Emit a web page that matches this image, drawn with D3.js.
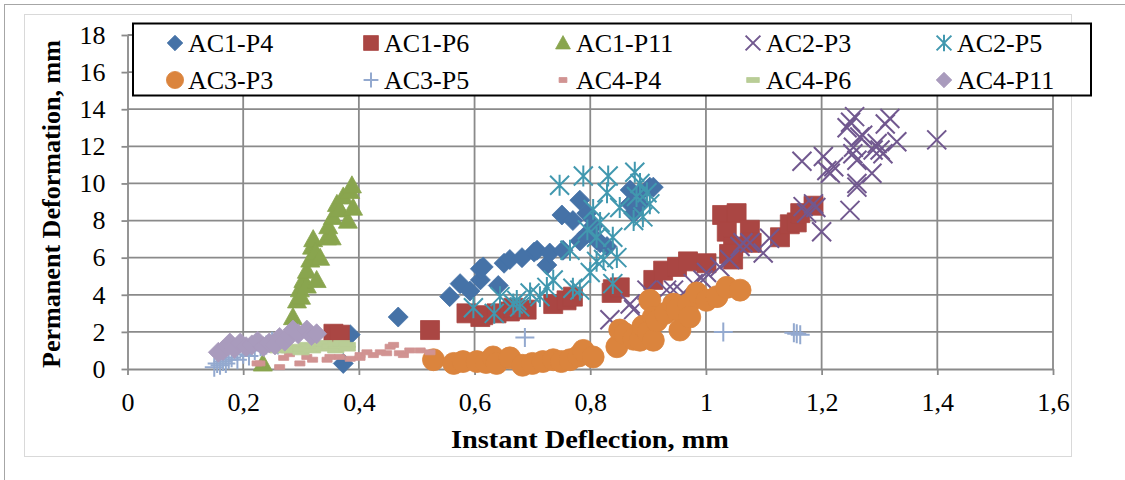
<!DOCTYPE html>
<html>
<head>
<meta charset="utf-8">
<script src="https://cdn.jsdelivr.net/npm/d3@7"></script>
<style>
body{margin:0;background:#fff}
text{font-family:"Liberation Serif",serif;fill:#000}
</style>
</head>
<body>
<svg id="chart" width="1125" height="480"></svg>
<script>
// series: [instant deflection mm, permanent deformation mm]
let ac1p4 = [[0.373,0.3],[0.385,1.85],[0.468,2.8],[0.557,3.9],[0.575,4.6],[0.592,4.2],[0.61,4.8],[0.61,5.4],[0.615,5.5],[0.641,4.5],[0.651,5.7],[0.661,5.9],[0.682,6.0],[0.703,6.3],[0.708,6.4],[0.725,5.6],[0.73,6.25],[0.753,6.4],[0.751,8.3],[0.77,8.0],[0.782,6.9],[0.782,9.1],[0.794,8.4],[0.795,7.3],[0.805,7.7],[0.811,6.95],[0.817,6.8],[0.829,6.6],[0.869,8.9],[0.869,9.65],[0.875,8.4],[0.886,9.5],[0.886,8.9],[0.903,9.8],[0.909,9.8]]
let ac1p6 = [[0.356,1.9],[0.367,1.85],[0.523,2.1],[0.586,3.0],[0.61,2.8],[0.615,2.9],[0.638,3.0],[0.661,3.1],[0.667,3.3],[0.69,3.2],[0.736,3.5],[0.759,3.7],[0.77,3.9],[0.839,4.3],[0.837,4.1],[0.851,4.4],[0.909,4.8],[0.926,5.3],[0.95,5.5],[0.969,5.8],[1.001,5.7],[1.028,8.3],[1.053,8.4],[1.036,7.4],[1.076,7.5],[1.047,6.6],[1.079,6.8],[1.047,5.9],[1.04,6.2],[1.128,7.1],[1.145,7.8],[1.157,7.9],[1.163,8.4],[1.186,8.8]]
let ac1p11 = [[0.234,0.3],[0.286,2.8],[0.293,3.7],[0.298,4.3],[0.3,3.9],[0.304,4.8],[0.31,4.5],[0.31,5.3],[0.316,5.9],[0.319,6.6],[0.321,7.0],[0.325,6.3],[0.327,4.8],[0.333,6.0],[0.345,7.1],[0.347,7.7],[0.353,7.1],[0.355,8.2],[0.362,8.9],[0.367,8.6],[0.373,9.3],[0.381,8.0],[0.385,9.6],[0.388,9.9],[0.39,8.7]]
let ac2p3 = [[0.834,2.65],[0.869,3.5],[0.875,3.2],[0.898,4.25],[0.932,4.25],[0.944,4.25],[0.961,4.1],[0.978,4.6],[0.995,4.8],[1.001,5.2],[1.024,5.5],[1.041,5.9],[1.059,6.6],[1.064,6.8],[1.076,6.8],[1.099,6.25],[1.11,7.05],[1.168,8.75],[1.174,8.4],[1.186,8.9],[1.19,8.7],[1.2,7.4],[1.249,8.55],[1.261,9.8],[1.261,10.0],[1.287,10.55],[1.209,10.7],[1.215,10.55],[1.166,11.2],[1.203,11.45],[1.221,10.9],[1.254,11.6],[1.261,11.25],[1.255,11.95],[1.289,11.8],[1.301,11.8],[1.306,11.6],[1.296,12.15],[1.33,12.25],[1.399,12.35],[1.244,13.0],[1.25,13.3],[1.257,13.6],[1.266,12.5],[1.271,12.6],[1.31,13.2],[1.318,13.5]]
let ac2p5 = [[0.598,3.3],[0.634,3.0],[0.644,3.9],[0.667,3.5],[0.673,3.7],[0.678,3.35],[0.696,4.1],[0.713,3.9],[0.725,4.4],[0.736,4.8],[0.765,6.4],[0.77,4.35],[0.782,4.25],[0.747,9.9],[0.788,10.4],[0.795,7.5],[0.8,5.2],[0.805,8.6],[0.811,5.8],[0.811,7.1],[0.817,7.9],[0.823,5.9],[0.829,9.5],[0.831,10.4],[0.839,7.1],[0.839,4.6],[0.846,6.0],[0.851,8.7],[0.875,8.0],[0.877,10.6],[0.88,9.3],[0.886,10.0],[0.891,8.2],[0.898,9.5],[0.903,8.9]]
let ac3p3 = [[0.529,0.5],[0.564,0.3],[0.58,0.4],[0.604,0.4],[0.62,0.35],[0.632,0.65],[0.638,0.3],[0.661,0.6],[0.683,0.2],[0.7,0.3],[0.718,0.4],[0.736,0.5],[0.75,0.4],[0.765,0.5],[0.78,0.7],[0.788,1.0],[0.805,0.65],[0.846,1.2],[0.851,2.1],[0.86,1.9],[0.875,1.6],[0.886,1.55],[0.891,2.3],[0.9,2.0],[0.903,3.7],[0.909,2.8],[0.909,1.55],[0.915,2.6],[0.93,3.0],[0.944,3.5],[0.95,3.2],[0.955,2.1],[0.97,3.5],[0.972,2.8],[0.984,4.1],[1.001,3.7],[1.019,3.9],[1.036,4.4],[1.059,4.25]]
let ac3p5 = [[0.15,0.1],[0.155,0.3],[0.16,0.2],[0.165,0.4],[0.17,0.3],[0.175,0.5],[0.18,0.6],[0.19,0.5],[0.2,0.8],[0.21,0.7],[0.22,1.0],[0.23,1.2],[0.24,1.3],[0.25,1.5],[0.26,1.3],[0.687,1.7],[1.03,2.0],[1.152,1.95],[1.157,1.9],[1.163,1.85]]
let ac4p4 = [[0.224,0.3],[0.229,0.3],[0.263,0.1],[0.27,0.6],[0.28,0.8],[0.298,0.3],[0.31,0.65],[0.32,0.5],[0.345,0.5],[0.35,0.65],[0.367,0.65],[0.385,0.55],[0.402,0.6],[0.402,0.75],[0.414,0.9],[0.425,0.75],[0.437,0.9],[0.448,0.85],[0.454,1.2],[0.46,1.3],[0.47,0.85],[0.477,0.75],[0.488,1.0],[0.506,1.0],[0.523,0.9]]
let ac4p6 = [[0.26,1.0],[0.27,1.1],[0.28,1.0],[0.29,1.2],[0.3,0.9],[0.3,1.1],[0.31,1.3],[0.32,1.0],[0.32,1.2],[0.33,1.3],[0.34,1.1],[0.34,1.4],[0.35,1.2],[0.36,1.0],[0.36,1.3],[0.37,1.4],[0.38,1.1],[0.38,1.3]]
let ac4p11 = [[0.157,0.9],[0.165,1.0],[0.172,1.2],[0.177,1.4],[0.185,1.1],[0.195,1.4],[0.205,1.2],[0.215,1.3],[0.225,1.5],[0.235,1.2],[0.245,1.4],[0.255,1.3],[0.263,1.7],[0.272,1.5],[0.28,1.8],[0.286,2.1],[0.295,1.9],[0.31,2.1],[0.318,1.8],[0.327,1.9]]

let seriesNames = ['AC1-P4','AC1-P6','AC1-P11','AC2-P3','AC2-P5','AC3-P3','AC3-P5','AC4-P4','AC4-P6','AC4-P11']
let seriesData = [ac1p4, ac1p6, ac1p11, ac2p3, ac2p5, ac3p3, ac3p5, ac4p4, ac4p6, ac4p11]
let seriesColors = ['#4572A7','#AA4643','#89A54E','#71588F','#4198AF','#DB843D','#93A9CF','#D19392','#B9CD96','#A99BBD']
let seriesShapes = ['diamond','square','triangle','x','star','circle','plus','dash','longdash','diamond']

let xTicks = [0,0.2,0.4,0.6,0.8,1,1.2,1.4,1.6]
let xTickLabels = ['0','0,2','0,4','0,6','0,8','1','1,2','1,4','1,6']
let yTicks = [0,2,4,6,8,10,12,14,16,18]

let svg = d3.select('#chart')

let x = d3.scaleLinear().domain([0,1.6]).range([127.5,1053])
let y = d3.scaleLinear().domain([0,18]).range([369,35])

// frames
svg.append('rect').attr('x',4.5).attr('y',4.5).attr('width',1140).attr('height',500)
   .attr('fill','#fff').attr('stroke','#a6a6a6').attr('stroke-width',1)
svg.append('rect').attr('x',24.5).attr('y',14.5).attr('width',1047).attr('height',442)
   .attr('fill','#fff').attr('stroke','#d9d9d9').attr('stroke-width',1)

let gridColor = '#8a8a8a'

// grid
svg.append('g').selectAll('line').data(yTicks.slice(1)).enter().append('line')
   .attr('x1',x(0)).attr('x2',x(1.6))
   .attr('y1',d=>y(d)).attr('y2',d=>y(d))
   .attr('stroke',gridColor).attr('stroke-width',1.8)
svg.append('g').selectAll('line').data(xTicks.slice(1)).enter().append('line')
   .attr('x1',d=>x(d)).attr('x2',d=>x(d))
   .attr('y1',y(0)).attr('y2',y(18))
   .attr('stroke',gridColor).attr('stroke-width',1.8)

// axes
let yAxis = svg.append('g').attr('transform','translate('+x(0)+',0)')
   .call(d3.axisLeft(y).tickValues(yTicks).tickFormat(d=>String(d)).tickSize(6).tickSizeOuter(0).tickPadding(16))
let xAxis = svg.append('g').attr('transform','translate(0,'+y(0)+')')
   .call(d3.axisBottom(x).tickValues(xTicks).tickFormat((d,i)=>xTickLabels[i]).tickSize(6).tickSizeOuter(0).tickPadding(18))
;[yAxis, xAxis].forEach(a=>{
    a.selectAll('path,line').attr('stroke',gridColor).attr('stroke-width',1.8)
    a.selectAll('text').attr('font-size',26).attr('font-family','"Liberation Serif",serif').attr('fill','#000')
})

// marker shapes, s = full width
let markerPath = (shape, s) => {
    let h = s/2
    if(shape==='diamond') return `M0,${-h}L${h},0L0,${h}L${-h},0Z`
    if(shape==='square') return `M${-h},${-h}h${s}v${s}h${-s}Z`
    if(shape==='triangle') return `M0,${-h}L${h},${h*0.8}L${-h},${h*0.8}Z`
    if(shape==='circle') return `M${-h},0A${h},${h} 0 1,0 ${h},0A${h},${h} 0 1,0 ${-h},0Z`
    if(shape==='x') return `M${-h},${-h}L${h},${h}M${-h},${h}L${h},${-h}`
    if(shape==='star') return `M${-h},${-h}L${h},${h}M${-h},${h}L${h},${-h}M0,${-h*1.1}V${h*1.1}`
    if(shape==='plus') return `M${-h},0H${h}M0,${-h}V${h}`
    if(shape==='dash') return `M${-s*0.28},-2.5h${s*0.56}v5h${-s*0.56}Z`
    if(shape==='longdash') return `M${-s*0.45},-2.5h${s*0.9}v5h${-s*0.9}Z`
}
let isStroked = shape => shape==='x' || shape==='star' || shape==='plus'
let plotSize = {diamond:20,square:19,triangle:19,circle:22,x:19,star:19,plus:19,dash:18,longdash:18}

let drawMarker = (g, shape, color, s) => {
    g.append('path').attr('d',markerPath(shape,s))
     .attr('fill',isStroked(shape)?'none':color)
     .attr('stroke',color)
     .attr('stroke-width',isStroked(shape)?2:0.8)
     .attr('stroke-linejoin','round')
}

// points
seriesData.forEach((pts,i)=>{
    let g = svg.append('g').attr('class','series')
    g.selectAll('g').data(pts).enter().append('g')
     .attr('transform',d=>'translate('+x(d[0])+','+y(d[1])+')')
     .each(function(){ drawMarker(d3.select(this), seriesShapes[i], seriesColors[i], plotSize[seriesShapes[i]]) })
})

// legend
let legend = svg.append('g')
legend.append('rect').attr('x',133).attr('y',23.5).attr('width',958).attr('height',72)
      .attr('fill','#fff').attr('stroke','#000').attr('stroke-width',2)
let legX = [175,371,563,753,944]
let legY = [43,80]
seriesNames.forEach((name,i)=>{
    let lx = legX[i%5], ly = legY[Math.floor(i/5)]
    let g = legend.append('g').attr('transform','translate('+lx+','+ly+')')
    drawMarker(g, seriesShapes[i], seriesColors[i], plotSize[seriesShapes[i]]*0.78)
    g.append('text').attr('x',13).attr('y',9).attr('font-size',26).text(name)
})

// axis titles
svg.append('text').attr('x',590).attr('y',448).attr('text-anchor','middle')
   .attr('font-size',26).attr('font-weight','bold')
   .attr('textLength',278).attr('lengthAdjust','spacingAndGlyphs')
   .text('Instant Deflection, mm')
svg.append('text').attr('transform','translate(60,204) rotate(-90)').attr('text-anchor','middle')
   .attr('font-size',26).attr('font-weight','bold')
   .attr('textLength',328).attr('lengthAdjust','spacingAndGlyphs')
   .text('Permanent Deformation, mm')
</script>
</body>
</html>
